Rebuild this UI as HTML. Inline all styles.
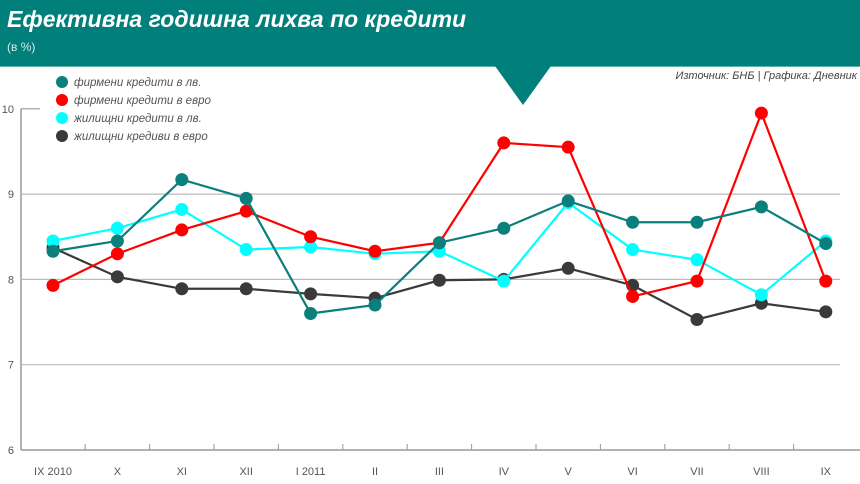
<!DOCTYPE html>
<html><head><meta charset="utf-8"><style>
body{margin:0;width:860px;height:484px;overflow:hidden;background:#fff;font-family:"Liberation Sans",sans-serif}
svg{display:block}
</style></head><body>
<svg width="860" height="484">
<rect x="0" y="0" width="860" height="66" fill="#007f7b"/>
<line x1="0" y1="66.5" x2="860" y2="66.5" stroke="#5fb3af" stroke-width="1"/>
<polygon points="495,66 551,66 523,105" fill="#007f7b"/>
<text x="7" y="27" fill="#fff" font-size="23" font-weight="bold" font-style="italic">Ефективна годишна лихва по кредити</text>
<text x="7" y="51" fill="#d6ecea" font-size="12">(в %)</text>
<text x="857" y="79" text-anchor="end" fill="#444" font-size="11" font-style="italic">Източник: БНБ | Графика: Дневник</text>
<g id="grid"></g>
<g id="legend"></g>
<g id="plot"></g>
</svg>
<script>
const categories=["IX 2010","X","XI","XII","I 2011","II","III","IV","V","VI","VII","VIII","IX"];
const firmLv=[8.33,8.45,9.17,8.95,7.6,7.7,8.43,8.6,8.92,8.67,8.67,8.85,8.42];
const firmEur=[7.93,8.3,8.58,8.8,8.5,8.33,8.43,9.6,9.55,7.8,7.98,9.95,7.98];
const homeLv=[8.45,8.6,8.82,8.35,8.38,8.3,8.33,7.98,8.9,8.35,8.23,7.82,8.45];
const homeEur=[8.37,8.03,7.89,7.89,7.83,7.78,7.99,8.0,8.13,7.93,7.53,7.72,7.62];
const yTicks=[6,7,8,9,10];
const seriesNames=["фирмени кредити в лв.","фирмени кредити в евро","жилищни кредити в лв.","жилищни кредиви в евро"];
const NS="http://www.w3.org/2000/svg";
function x(i){return 53+i*64.4;}
function y(v){return 450-(v-6)*85.3;}
function mk(t,a,p){const e=document.createElementNS(NS,t);for(const k in a)e.setAttribute(k,a[k]);p.appendChild(e);return e;}
const grid=document.getElementById('grid');
mk('line',{x1:21,y1:y(10),x2:21,y2:450,stroke:'#999','stroke-width':1.5},grid);
mk('line',{x1:21,y1:450,x2:860,y2:450,stroke:'#999','stroke-width':1.5},grid);
yTicks.forEach(v=>{
 if(v>6&&v<10){const l=mk('line',{x1:21,y1:y(v),x2:840,y2:y(v),stroke:'#bbb','stroke-width':1.2},grid);
 }
 if(v==10){mk('line',{x1:21,y1:y(v),x2:40,y2:y(v),stroke:'#999','stroke-width':1.2},grid);}
 const t=mk('text',{x:14,y:y(v)+4,'text-anchor':'end','font-size':11,fill:'#555'},grid);t.textContent=v;
 
});
categories.forEach((c,i)=>{
 if(i>0)mk('line',{x1:x(i)-32.2,y1:444,x2:x(i)-32.2,y2:450,stroke:'#999','stroke-width':1},grid);
 const t=mk('text',{x:x(i),y:475,'text-anchor':'middle','font-size':11,fill:'#555'},grid);t.textContent=c;
 
});
const colors=["#0a7f7c","#ff0000","#00ffff","#3a3a3a"];
const leg=document.getElementById('legend');
seriesNames.forEach((n,i)=>{
 const g=mk('g',{},leg);
 mk('circle',{cx:62,cy:82+i*18,r:6,fill:colors[i]},g);
 const t=mk('text',{x:74,y:86+i*18,'font-size':11.5,'font-style':'italic',fill:'#555'},g);t.textContent=n;
});
const plot=document.getElementById('plot');
const data=[firmLv,firmEur,homeLv,homeEur];
const names=["firm-lv","firm-eur","home-lv","home-eur"];
[3,2,1,0].forEach(s=>{
 const g=mk('g',{},plot);
 mk('polyline',{points:data[s].map((v,i)=>x(i)+','+y(v)).join(' '),fill:'none',stroke:colors[s],'stroke-width':2.2},g);
 data[s].forEach((v,i)=>{const c=mk('circle',{cx:x(i),cy:y(v),r:6.5,fill:colors[s]},g);
  });
});
</script>
</body></html>
